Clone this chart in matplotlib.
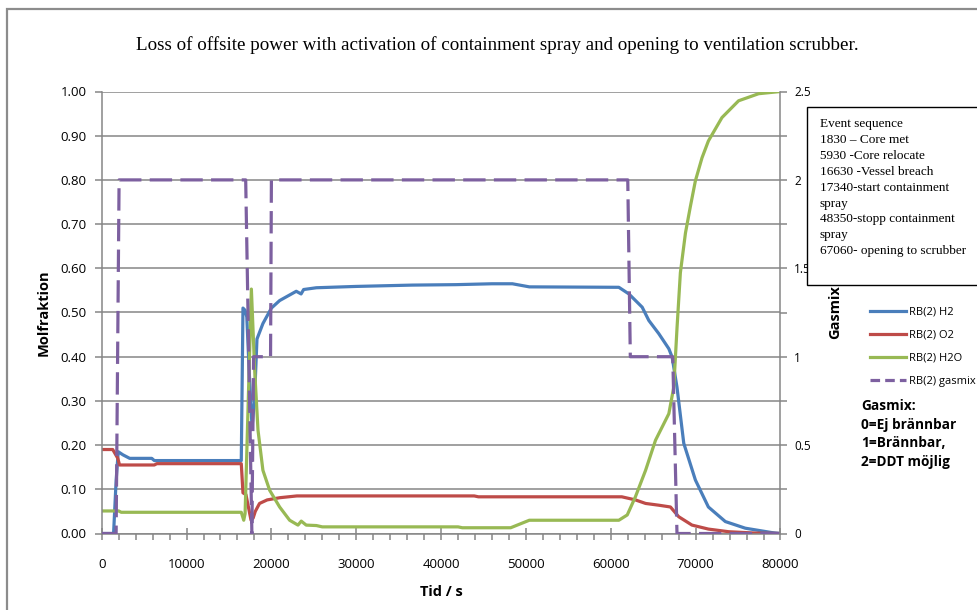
import matplotlib
matplotlib.use("Agg")
import matplotlib.pyplot as plt
from matplotlib.patches import Rectangle
from matplotlib.lines import Line2D
from matplotlib.ticker import MultipleLocator, FormatStrFormatter

plt.rcParams['font.family'] = ['Open Sans', 'DejaVu Sans']

# data
t_h2 = [0, 1400, 1700, 1950, 2500, 3300, 5900, 6200, 16450, 16650, 16900, 17100,
        17400, 17720, 18000, 18300, 19000, 20000, 20970, 22930, 23500, 23800, 25300,
        30000, 36600, 41750, 46000, 48400, 50400, 60950, 62130, 63700, 64480, 65660,
        66840, 67230, 67800, 68600, 69970, 71500, 73500, 75850, 79000, 80000]
h2 = [0, 0, 0.12, 0.185, 0.178, 0.17, 0.17, 0.165, 0.165, 0.51, 0.505, 0.49,
      0.36, 0.24, 0.30, 0.44, 0.475, 0.51, 0.527, 0.548, 0.542, 0.552, 0.556,
      0.559, 0.562, 0.563, 0.565, 0.565, 0.558, 0.557, 0.542, 0.512, 0.482, 0.452,
      0.418, 0.399, 0.331, 0.204, 0.121, 0.06, 0.027, 0.012, 0.002, 0.0]

t_o2 = [0, 1300, 1900, 2100, 6200, 6500, 16450, 16650, 17000, 17600, 17850, 18100,
        18600, 19500, 21000, 23000, 30000, 43900, 44400, 61300, 62900, 64100,
        65660, 67030, 68000, 69570, 71500, 73900, 77000, 80000]
o2 = [0.19, 0.19, 0.17, 0.155, 0.155, 0.158, 0.158, 0.092, 0.088, 0.03, 0.035, 0.05,
      0.068, 0.076, 0.081, 0.085, 0.085, 0.085, 0.083, 0.083, 0.076, 0.068,
      0.064, 0.06, 0.038, 0.019, 0.01, 0.004, 0.001, 0.0]

t_h2o = [0, 2000, 2300, 16450, 16740, 16900, 17640, 18030, 18420, 19000, 19790,
         20970, 22150, 23130, 23520, 24100, 25300, 26000, 42000, 42500, 48200,
         50400, 60950, 61940, 62900, 64100, 65270, 66840, 67420, 67810, 68200,
         68800, 69380, 69970, 70750, 71500, 73100, 75060, 77420, 80000]
h2o = [0.051, 0.051, 0.048, 0.048, 0.03, 0.045, 0.553, 0.369, 0.234, 0.143, 0.098,
       0.06, 0.03, 0.019, 0.028, 0.019, 0.018, 0.015, 0.015, 0.013, 0.013,
       0.03, 0.03, 0.042, 0.083, 0.143, 0.211, 0.271, 0.331, 0.467, 0.59,
       0.68, 0.74, 0.798, 0.85, 0.888, 0.941, 0.979, 0.995, 1.0]

t_gas = [0, 1700, 2050, 16970, 17700, 17900, 19900, 20000, 62000, 62300, 67300, 67800, 80000]
gas = [0, 0, 2, 2, 0, 1, 1, 2, 2, 1, 1, 0, 0]

series_labels = ['RB(2) H2', 'RB(2) O2', 'RB(2) H2O', 'RB(2) gasmix']
events = ["Event sequence", "1830 \u2013 Core met", "5930 -Core relocate",
          "16630 -Vessel breach", "17340-start containment", "spray",
          "48350-stopp containment", "spray", "67060- opening to scrubber"]
gasmix_note = ["Gasmix:", "0=Ej br\u00e4nnbar", "1=Br\u00e4nnbar,", "2=DDT m\u00f6jlig"]

c_h2, c_o2, c_h2o, c_gas = '#4a7ebb', '#be4b48', '#98b954', '#7d60a0'
gray = '#868686'

fig = plt.figure(figsize=(9.78, 6.10), dpi=100)
ax = fig.add_axes([101.7 / 978, 76.5 / 610, 678.8 / 978, 442 / 610])

ax.plot(t_h2, h2, color=c_h2, lw=2.3)
ax.plot(t_o2, o2, color=c_o2, lw=2.3)
ax.plot(t_h2o, h2o, color=c_h2o, lw=2.3)

ax.set_xlim(0, 80000)
ax.set_ylim(0, 1.0)
ax.xaxis.set_major_locator(MultipleLocator(10000))
ax.xaxis.set_minor_locator(MultipleLocator(2000))
ax.yaxis.set_major_locator(MultipleLocator(0.1))
ax.yaxis.set_major_formatter(FormatStrFormatter('%.2f'))
ax.grid(axis='y', color=gray, lw=1.1)
ax.set_axisbelow(True)
for s in ['top', 'right']:
    ax.spines[s].set_visible(False)
for s in ['left', 'bottom']:
    ax.spines[s].set_color(gray)
    ax.spines[s].set_linewidth(1.1)
ax.tick_params(axis='both', which='both', color=gray, labelsize=9.5, width=1.1)
ax.tick_params(axis='y', length=5, pad=6)
ax.tick_params(axis='x', which='major', direction='inout', length=9, pad=13)
ax.tick_params(axis='x', which='minor', direction='out', length=4)
ax.set_ylabel('Molfraktion', fontsize=10.5, fontweight='bold', labelpad=7)
ax.set_xlabel('Tid / s', fontsize=10.5, fontweight='bold', labelpad=10)

ax2 = ax.twinx()
ax2.plot(t_gas, gas, color=c_gas, lw=2.3, dashes=(7, 2.6))
ax2.set_ylim(0, 2.5)
ax2.set_yticks([0, 0.5, 1, 1.5, 2, 2.5])
ax2.set_yticklabels(['0', '0.5', '1', '1.5', '2', '2.5'])
ax2.yaxis.set_minor_locator(MultipleLocator(0.25))
for s in ['top', 'left', 'bottom']:
    ax2.spines[s].set_visible(False)
ax2.spines['right'].set_color(gray)
ax2.spines['right'].set_linewidth(1.1)
ax2.tick_params(axis='y', which='both', color=gray, length=5, width=1.1, labelsize=8.5, pad=5)
ax2.set_ylabel('Gasmix', fontsize=10.5, fontweight='bold', labelpad=12)

handles = [Line2D([], [], color=c, lw=2.3) for c in (c_h2, c_o2, c_h2o)]
handles.append(Line2D([], [], color=c_gas, lw=2.3, dashes=(3, 1.6)))
fig.legend(handles, series_labels, loc='upper left', bbox_to_anchor=(866 / 978, 1 - 302 / 610),
           frameon=False, fontsize=8, handlelength=3.2, handletextpad=0.3,
           labelspacing=1.1, borderaxespad=0)

for i, line in enumerate(gasmix_note):
    fig.text(861 / 978, 1 - (406 + i * 18.6) / 610, line, fontsize=9.8,
             fontweight='bold', va='center', ha='left')

fig.text(497 / 978, 1 - 45 / 610,
         'Loss of offsite power with activation of containment spray and opening to ventilation scrubber.',
         family='Liberation Serif', fontsize=13.7, ha='center', va='center')

# event box and outer chart border
fig.patches.append(Rectangle((807 / 978, 1 - 285 / 610), 0.25, 178 / 610,
                             transform=fig.transFigure, facecolor='white',
                             edgecolor='black', lw=1.0, zorder=2))
for i, line in enumerate(events):
    fig.text(820 / 978, 1 - (124 + i * 15.9) / 610, line, family='Liberation Serif',
             fontsize=9.5, va='center', ha='left', zorder=3)

fig.patches.append(Rectangle((7.5 / 978, -0.05), 1.1, 1.05 - 9 / 610,
                             transform=fig.transFigure, facecolor='none',
                             edgecolor='#8c8c8c', lw=1.6, zorder=2))

fig.savefig('out.png', dpi=100)
